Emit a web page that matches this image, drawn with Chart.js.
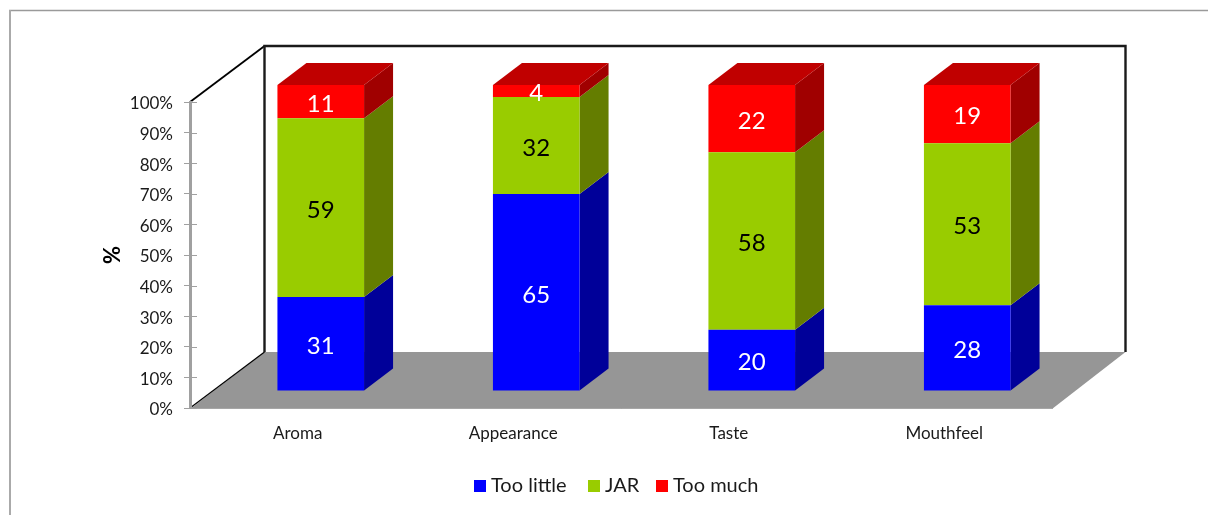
<!DOCTYPE html>
<html>
<head>
<meta charset="utf-8">
<title>Sensory attributes</title>
<script src="https://cdn.jsdelivr.net/npm/chart.js@4"></script>
<style>
    html, body { margin: 0; padding: 0; background: #fff; }
    canvas { display: block; }
</style>
</head>
<body>
<canvas id="jarChart" width="1208" height="515"></canvas>
<script>
    const categories = ['Aroma', 'Appearance', 'Taste', 'Mouthfeel'];
    const tooLittle = [31, 65, 20, 28];
    const jar = [59, 32, 58, 53];
    const tooMuch = [11, 4, 22, 19];

    const FONT = 'Lato, Carlito, Calibri, sans-serif';

    // Depth of the box the chart sits in, and of the bars standing inside it
    const WALL_LEFT_DX = 74.5, WALL_RIGHT_DX = 73.5, WALL_DY = 56;
    const BAR_OFFSET_X = 23, BAR_OFFSET_Y = 17;
    const BAR_DX = 29, BAR_DY = 22;

    // Some rows add up to 101, the bars are always stacked to 100%
    const totals = categories.map((c, i) => tooLittle[i] + jar[i] + tooMuch[i]);
    const toShare = (values) => values.map((v, i) => v / totals[i] * 100);

    const series = [
        { label: 'Too little', raw: tooLittle, front: '#0000ff', side: '#000099', top: '#0000c0', text: '#fff' },
        { label: 'JAR', raw: jar, front: '#99cc00', side: '#647d00', top: '#7a9e00', text: '#000' },
        { label: 'Too much', raw: tooMuch, front: '#ff0000', side: '#a00000', top: '#c00000', text: '#fff' }
    ];

    function poly(ctx, points, fill) {
        ctx.beginPath();
        points.forEach((p, i) => i ? ctx.lineTo(p[0], p[1]) : ctx.moveTo(p[0], p[1]));
        ctx.closePath();
        ctx.fillStyle = fill;
        ctx.fill();
    }

    function line(ctx, x1, y1, x2, y2, color, width) {
        ctx.beginPath();
        ctx.moveTo(x1, y1);
        ctx.lineTo(x2, y2);
        ctx.strokeStyle = color;
        ctx.lineWidth = width;
        ctx.stroke();
    }

    // Outer frame, back wall and floor behind the axes
    const boxPlugin = {
        id: 'box',
        beforeDraw(chart) {
            const { ctx, chartArea: a } = chart;
            ctx.save();
            line(ctx, 9, 10.5, chart.width, 10.5, '#9a9a9a', 1.5);
            line(ctx, 10, 10, 10, chart.height, '#aaaaaa', 2);

            const bx = a.left + WALL_LEFT_DX, rx = a.right + WALL_RIGHT_DX;
            const tY = a.top - WALL_DY, bY = a.bottom - WALL_DY;
            poly(ctx, [[a.left, a.bottom + 1], [bx, bY], [rx, bY], [a.right, a.bottom + 1]], '#969696');

            line(ctx, a.left, a.top, bx, tY, '#000', 1.8);
            line(ctx, a.left, a.bottom, bx, bY, '#000', 1.2);
            ctx.beginPath();
            ctx.moveTo(bx, bY);
            ctx.lineTo(bx, tY);
            ctx.lineTo(rx, tY);
            ctx.lineTo(rx, bY);
            ctx.strokeStyle = '#1a1a1a';
            ctx.lineWidth = 2.4;
            ctx.stroke();
            ctx.restore();
        },
        // Ticks on the value axis cross it, the scale only draws the outer half
        afterDraw(chart) {
            const { ctx, scales: { y } } = chart;
            ctx.save();
            y.ticks.forEach((t) => {
                const py = Math.round(y.getPixelForValue(t.value)) + 0.5;
                line(ctx, y.right, py, y.right + 7, py, '#a0a0a0', 1);
            });
            ctx.restore();
        }
    };

    // Side and top faces of each segment; the library draws the front faces
    const bar3dPlugin = {
        id: 'bar3d',
        beforeDatasetsDraw(chart) {
            const { ctx } = chart;
            ctx.save();
            ctx.translate(BAR_OFFSET_X, -BAR_OFFSET_Y);
            chart.data.datasets.forEach((ds, d) => {
                const s = series[d];
                chart.getDatasetMeta(d).data.forEach((bar) => {
                    const right = bar.x + bar.width / 2, left = bar.x - bar.width / 2;
                    poly(ctx, [[right, bar.y], [right + BAR_DX, bar.y - BAR_DY],
                        [right + BAR_DX, bar.base - BAR_DY], [right, bar.base]], s.side);
                    if (d === series.length - 1) {
                        poly(ctx, [[left, bar.y], [left + BAR_DX, bar.y - BAR_DY],
                            [right + BAR_DX, bar.y - BAR_DY], [right, bar.y]], s.top);
                    }
                });
            });
        },
        afterDatasetsDraw(chart) {
            const { ctx } = chart;
            ctx.textAlign = 'center';
            ctx.textBaseline = 'middle';
            ctx.font = '24px ' + FONT;
            chart.data.datasets.forEach((ds, d) => {
                ctx.fillStyle = series[d].text;
                chart.getDatasetMeta(d).data.forEach((bar, i) => {
                    ctx.fillText(series[d].raw[i], bar.x, (bar.y + bar.base) / 2 + 2.5);
                });
            });
            ctx.restore();
        }
    };

    // Legend row, with tighter box-to-text spacing than the built-in one
    const legendPlugin = {
        id: 'legendRow',
        afterDraw(chart) {
            const { ctx } = chart;
            const startX = [474, 588, 656];
            ctx.save();
            ctx.font = '20px ' + FONT;
            ctx.textAlign = 'left';
            ctx.textBaseline = 'middle';
            series.forEach((s, i) => {
                ctx.fillStyle = s.front;
                ctx.fillRect(startX[i], 480, 12, 12);
                ctx.fillStyle = '#1a1a1a';
                ctx.fillText(s.label, startX[i] + 17, 486);
            });
            ctx.restore();
        }
    };

    new Chart(document.getElementById('jarChart'), {
        type: 'bar',
        data: {
            labels: categories,
            datasets: series.map((s) => ({
                label: s.label,
                data: toShare(s.raw),
                backgroundColor: s.front,
                borderWidth: 0,
                barPercentage: 0.402,
                categoryPercentage: 1
            }))
        },
        options: {
            responsive: false,
            animation: false,
            layout: { padding: { left: 100, right: 156, top: 102, bottom: 0 } },
            plugins: { legend: { display: false }, tooltip: { enabled: false } },
            scales: {
                x: {
                    stacked: true,
                    grid: { display: false },
                    border: { display: true, color: '#a6a6a6', width: 1 },
                    ticks: { color: '#1a1a1a', padding: 7, font: { family: FONT, size: 17 }, maxRotation: 0 },
                    afterFit: (scale) => { scale.height = 107; }
                },
                y: {
                    stacked: true,
                    min: 0,
                    max: 100,
                    grid: { drawOnChartArea: false, color: '#a0a0a0', tickLength: 6 },
                    border: { color: '#a0a0a0', width: 3 },
                    ticks: {
                        stepSize: 10,
                        color: '#1a1a1a',
                        padding: 11,
                        labelOffset: 2,
                        font: { family: FONT, size: 17 },
                        callback: (v) => v + '%'
                    },
                    title: { display: true, text: '%', color: '#000', padding: 0, font: { family: FONT, size: 22, weight: 'bold' } },
                    afterFit: (scale) => { scale.width = 90; }
                }
            }
        },
        plugins: [boxPlugin, bar3dPlugin, legendPlugin]
    });
</script>
</body>
</html>
